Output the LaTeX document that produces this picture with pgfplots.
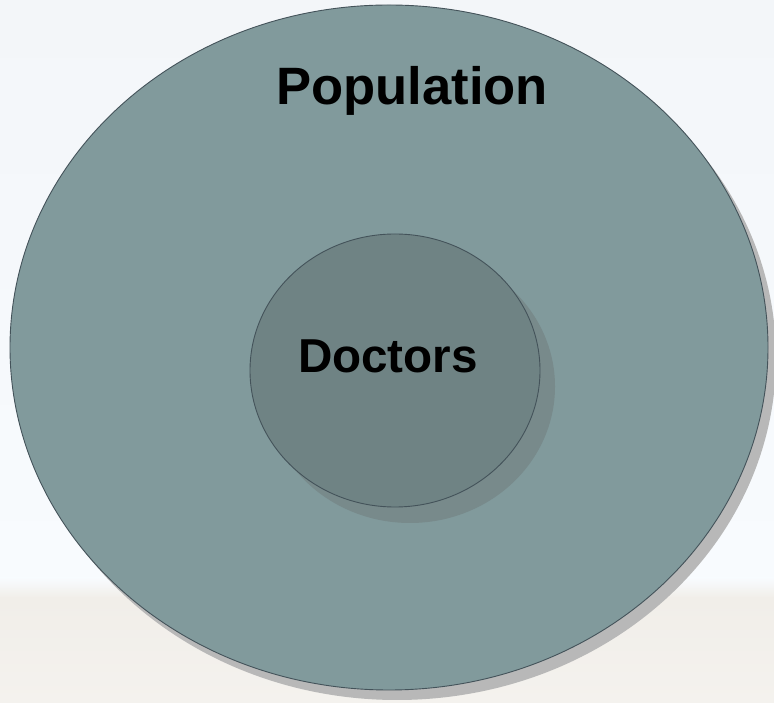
\documentclass[border=0pt]{standalone}
\usepackage{pgfplots}
\pgfplotsset{compat=1.18}
\usepackage{fontspec}
\setmainfont{Liberation Sans}
\definecolor{sky}{HTML}{F3F6F9}
\definecolor{skyb}{HTML}{F8FBFE}
\definecolor{ground}{HTML}{F1EEE9}
\definecolor{groundb}{HTML}{F4F2EE}
\definecolor{outerfill}{HTML}{819A9C}
\definecolor{innerfill}{HTML}{6F8384}
\definecolor{edge}{HTML}{44535A}
\definecolor{shadowA}{HTML}{B8B8B8}
\definecolor{shadowB}{HTML}{788A8B}
\begin{document}
\begin{tikzpicture}
\begin{axis}[
  scale only axis, width=774bp, height=703bp,
  xmin=0, xmax=774, ymin=0, ymax=703,
  axis lines=none, clip=true,
]
% background
\fill[top color=sky, bottom color=skyb] (axis cs:0,125) rectangle (axis cs:774,703);
\fill[top color=skyb, bottom color=ground] (axis cs:0,105) rectangle (axis cs:774,125);
\fill[top color=ground, bottom color=groundb] (axis cs:0,0) rectangle (axis cs:774,105.5);
% outer ellipse (Population)
\fill[shadowA] (axis cs:397,345.5) ellipse [x radius=379, y radius=342.5];
\filldraw[fill=outerfill, draw=edge, line width=0.9bp] (axis cs:389,355.5) ellipse [x radius=379, y radius=342.5];
% inner ellipse (Doctors)
\fill[shadowB] (axis cs:410,316.5) ellipse [x radius=145, y radius=136.5];
\filldraw[fill=innerfill, draw=edge, line width=0.9bp] (axis cs:395,332.5) ellipse [x radius=145, y radius=136.5];
\node[anchor=base, font=\bfseries\fontsize{52.6bp}{60bp}\selectfont, inner sep=0pt] at (axis cs:412,598) {Population};
\node[anchor=base, font=\bfseries\fontsize{47.6bp}{54bp}\selectfont, inner sep=0pt] at (axis cs:388,330) {Doctors};
\end{axis}
\end{tikzpicture}
\end{document}
